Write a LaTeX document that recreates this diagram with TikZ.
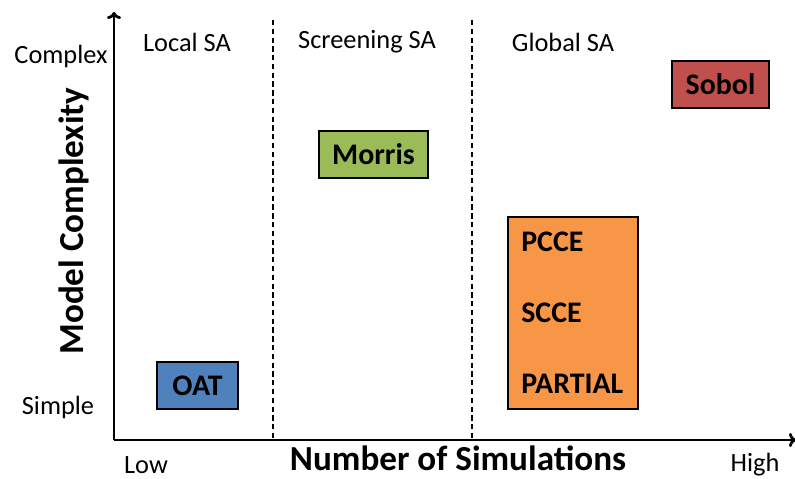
\documentclass[tikz,border=0pt]{standalone}
\usepackage{fontspec}
\setmainfont{Carlito}
\usetikzlibrary{positioning,arrows.meta}
\definecolor{oatblue}{HTML}{4F81BD}
\definecolor{morrisgreen}{HTML}{9BBB59}
\definecolor{sobolred}{HTML}{C0504D}
\definecolor{globalorange}{HTML}{F79646}

\begin{document}
\begin{tikzpicture}
[x=0.02cm, y=-0.02cm,
axisline/.style={line width=1.6pt, -{To[length=4pt,width=8pt]}},
divider/.style={densely dashed, line width=0.6pt},
methodbox/.style={rectangle, draw=black, line width=0.8pt, minimum height=0.94cm, inner sep=0pt},
methodname/.style={font=\fontsize{17}{20}\selectfont\bfseries},
regionlabel/.style={font=\fontsize{15}{18}\selectfont, inner sep=1pt},
axistitle/.style={font=\fontsize{20}{24}\selectfont\bfseries, inner sep=0pt},
]
\useasboundingbox (0,0) rectangle (795,479);
% axes
\coordinate (origin) at (114,440);
\coordinate (ytop) at (114,12);
\coordinate (xend) at (796,440);
\draw[axisline] (origin) -- (ytop);
\draw[axisline] (origin) -- (xend);
% region dividers
\coordinate (divA) at (273,20);
\coordinate (divAbot) at (273,440);
\coordinate (divB) at (472,20);
\coordinate (divBbot) at (472,440);
\draw[divider] (divA) -- (divAbot);
\draw[divider] (divB) -- (divBbot);
% region labels
\node[regionlabel] (local) at (187,42) {Local SA};
\node[regionlabel] (screening) at (367,42) {Screening SA};
\node[regionlabel] (global) at (563,42) {Global SA};
% axis labels
\node[regionlabel] (complex) at (61,56) {Complex};
\node[regionlabel] (simple) at (58,407) {Simple};
\node[regionlabel] (low) at (146,465) {Low};
\node[regionlabel] (high) at (755,465) {High};
\node[axistitle, rotate=90] (ytitle) at (74,221) {Model Complexity};
\node[axistitle, anchor=base] (xtitle) at (458,471) {Number of Simulations};
% methods
\node[methodbox, methodname, fill=oatblue, minimum width=1.62cm] (OAT) at (197.5,385.5) {OAT};
\node[methodbox, methodname, fill=morrisgreen, minimum width=2.18cm] (Morris) at (373.5,154.5) {Morris};
\node[methodbox, methodname, fill=sobolred, minimum width=1.94cm] (Sobol) at (720.5,84.5) {Sobol};
\node[methodbox, fill=globalorange, minimum width=2.6cm, minimum height=3.84cm] (globalbox) at (573,313) {};
\node[methodname, anchor=west, inner sep=0pt] (PCCE) at (521,242) {PCCE};
\node[methodname, anchor=west, inner sep=0pt] (SCCE) at (521,313) {SCCE};
\node[methodname, anchor=west, inner sep=0pt] (PARTIAL) at (521,384) {PARTIAL};
\end{tikzpicture}
\end{document}
